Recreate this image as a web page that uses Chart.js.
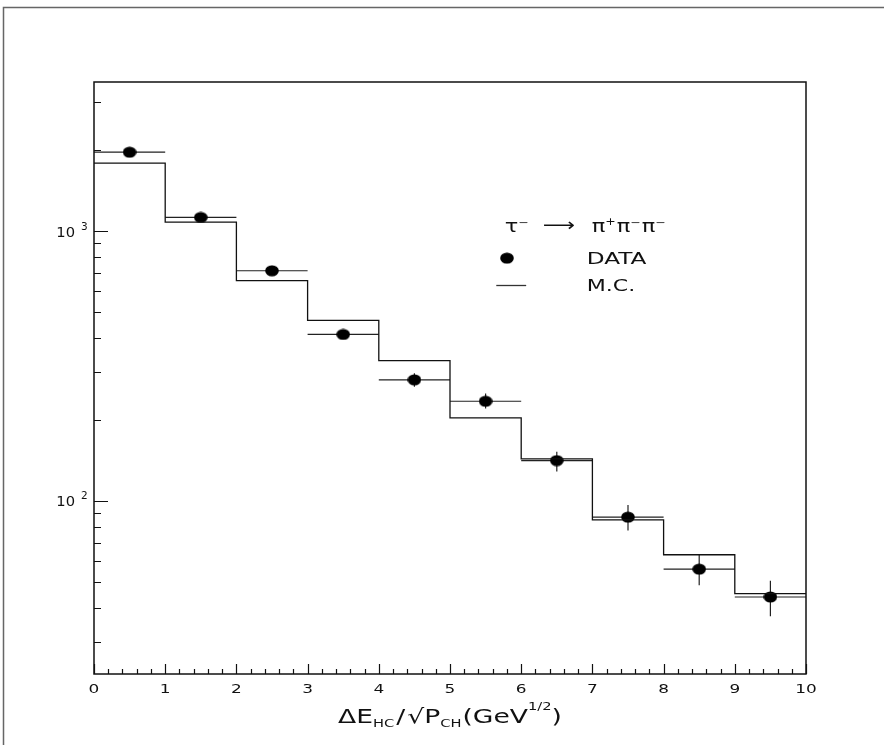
<!DOCTYPE html>
<html lang="en">
<head>
<meta charset="utf-8" />
<title>tau -> 3 pi : HC energy</title>
<script src="https://cdn.jsdelivr.net/npm/chart.js@4.4.1/dist/chart.umd.min.js"></script>
<style>
  html, body { margin: 0; padding: 0; background: #fff; }
  #wrap { width: 884px; height: 745px; }
</style>
</head>
<body>
<div id="wrap"><canvas id="c" width="884" height="745"></canvas></div>
<script>
// histogram bins (x in GeV^1/2)
const binCenters = [0.5, 1.5, 2.5, 3.5, 4.5, 5.5, 6.5, 7.5, 8.5, 9.5];
const binHalfWidth = 0.5;

// measured data points and their error range
const dataValues = [1962, 1124, 713, 414, 281, 234, 141, 87, 55.8, 44.0];
const dataLow    = [1920, 1090, 690, 402, 265, 220, 128.5, 77.6, 48.6, 37.3];
const dataHigh   = [2005, 1158, 737, 427, 297, 250, 152, 96.6, 63.5, 50.6];

// Monte Carlo histogram contents
const mcValues = [1786, 1080, 655, 467, 331, 203, 143, 85, 63.1, 45.3];

// axis ticks
const xTickLabels = ['0', '1', '2', '3', '4', '5', '6', '7', '8', '9', '10'];
const yDecades = [100, 1000];
const yDecadeExp = ['2', '3'];
const yMinorTicks = [30, 40, 50, 60, 70, 80, 90, 200, 300, 400, 500, 600, 700, 800, 900, 2000, 3000];

const FONT = '"DejaVu Sans", sans-serif';
const INK = '#111';

// step histogram points: one per bin edge, last one repeats last bin
const mcSteps = mcValues.map((v, i) => ({ x: binCenters[i] - binHalfWidth, y: v }));
mcSteps.push({ x: binCenters[binCenters.length - 1] + binHalfWidth, y: mcValues[mcValues.length - 1] });

const dataPoints = binCenters.map((x, i) => ({ x: x, y: dataValues[i] }));

// filled ellipse used as marker
const dot = document.createElement('canvas');
dot.width = 14; dot.height = 12;
(function () {
    const g = dot.getContext('2d');
    g.fillStyle = '#000';
    g.beginPath();
    g.ellipse(7, 6, 6.8, 5.6, 0, 0, Math.PI * 2);
    g.fill();
})();

// draw a run of text pieces [text, size, dy, gap] stretched horizontally by sx
function textRun(ctx, parts, x, y, sx, measureOnly) {
    let cx = x;
    parts.forEach(p => {
        ctx.save();
        ctx.font = p[1] + 'px ' + FONT;
        const w = ctx.measureText(p[0]).width * sx;
        if (!measureOnly) {
            ctx.translate(cx, y + (p[2] || 0));
            ctx.scale(sx, 1);
            ctx.fillStyle = INK;
            ctx.textBaseline = 'alphabetic';
            ctx.fillText(p[0], 0, 0);
        }
        ctx.restore();
        cx += w + (p[3] || 0);
    });
    return cx - x;
}

const errorBars = {
    id: 'errorBars',
    beforeDatasetsDraw(chart) {
        const ctx = chart.ctx, xs = chart.scales.x, ys = chart.scales.y;
        ctx.save();
        ctx.strokeStyle = '#222';
        ctx.lineWidth = 1.2;
        binCenters.forEach((x, i) => {
            const px = xs.getPixelForValue(x);
            const py = ys.getPixelForValue(dataValues[i]);
            ctx.beginPath();
            ctx.moveTo(xs.getPixelForValue(x - binHalfWidth), py);
            ctx.lineTo(xs.getPixelForValue(x + binHalfWidth), py);
            ctx.moveTo(px, ys.getPixelForValue(dataLow[i]));
            ctx.lineTo(px, ys.getPixelForValue(dataHigh[i]));
            ctx.stroke();
        });
        ctx.restore();
    }
};

const frameAndText = {
    id: 'frameAndText',
    afterDraw(chart) {
        const ctx = chart.ctx, a = chart.chartArea;
        const xs = chart.scales.x, ys = chart.scales.y;
        ctx.save();

        // outer page frame
        ctx.strokeStyle = '#666';
        ctx.lineWidth = 1.5;
        ctx.beginPath();
        ctx.moveTo(3.5, chart.height);
        ctx.lineTo(3.5, 7.5);
        ctx.lineTo(chart.width, 7.5);
        ctx.stroke();

        // plot box
        ctx.strokeStyle = INK;
        ctx.lineWidth = 1.5;
        ctx.strokeRect(a.left, a.top, a.right - a.left, a.bottom - a.top);

        // x ticks (inside, pointing up)
        ctx.lineWidth = 1.2;
        ctx.beginPath();
        for (let i = 0; i <= 50; i++) {
            const px = Math.round(xs.getPixelForValue(i / 5)) + 0.5;
            const len = i % 5 === 0 ? 10 : 5;
            ctx.moveTo(px, a.bottom);
            ctx.lineTo(px, a.bottom - len);
        }
        // y ticks (inside, pointing right)
        yDecades.forEach(v => {
            const py = Math.round(ys.getPixelForValue(v)) + 0.5;
            ctx.moveTo(a.left, py);
            ctx.lineTo(a.left + 14, py);
        });
        yMinorTicks.forEach(v => {
            const py = Math.round(ys.getPixelForValue(v)) + 0.5;
            ctx.moveTo(a.left, py);
            ctx.lineTo(a.left + 7, py);
        });
        ctx.stroke();

        // x tick labels
        xTickLabels.forEach((t, i) => {
            const w = textRun(ctx, [[t, 13]], 0, 0, 1.3, true);
            textRun(ctx, [[t, 13]], xs.getPixelForValue(i) - w / 2, a.bottom + 19, 1.3);
        });

        // y decade labels 10^n
        yDecades.forEach((v, i) => {
            const py = ys.getPixelForValue(v);
            const w = textRun(ctx, [['10', 14]], 0, 0, 1.05, true);
            textRun(ctx, [['10', 14]], a.left - 19 - w, py + 5.5, 1.05);
            textRun(ctx, [[yDecadeExp[i], 10]], a.left - 13, py - 1.5, 1.05);
        });

        // x axis title
        const title = [['ΔE', 20, 0], ['HC', 11, 4, 2], ['/', 20, 0, 2], ['√', 20, 0], ['P', 20, 0],
                       ['CH', 11, 4, 1], ['(GeV', 20, 0], ['1/2', 11, -13], [')', 20, 0]];
        const tw = textRun(ctx, title, 0, 0, 1.33, true);
        textRun(ctx, title, (a.left + a.right) / 2 - tw / 2, 723, 1.33);

        // legend
        const lx = xs.getPixelForValue(5.77);
        const tx = xs.getPixelForValue(6.92);
        const r1 = ys.getPixelForValue(1035);
        const r2 = ys.getPixelForValue(794);
        const r3 = ys.getPixelForValue(631);
        textRun(ctx, [['τ', 18, 0], ['−', 10, -6]], lx, r1 + 5, 1.25);
        textRun(ctx, [['⟶', 18, 0]], lx + 38, r1 + 4, 1.25);
        textRun(ctx, [['π', 18, 0], ['+', 10, -7, 1], ['π', 18, 0], ['−', 10, -6, 1], ['π', 18, 0], ['−', 10, -6]],
                tx + 5, r1 + 5, 1.25);
        ctx.drawImage(dot, xs.getPixelForValue(5.8) - 7, r2 - 6);
        textRun(ctx, [['DATA', 16]], tx, r2 + 6, 1.45);
        ctx.strokeStyle = '#333';
        ctx.lineWidth = 1.3;
        ctx.beginPath();
        ctx.moveTo(xs.getPixelForValue(5.65), Math.round(r3) + 0.5);
        ctx.lineTo(xs.getPixelForValue(6.07), Math.round(r3) + 0.5);
        ctx.stroke();
        textRun(ctx, [['M.C.', 16]], tx, r3 + 6, 1.38);

        ctx.restore();
    }
};

new Chart(document.getElementById('c'), {
    type: 'scatter',
    data: {
        datasets: [
            {
                label: 'M.C.',
                type: 'line',
                data: mcSteps,
                stepped: 'before',
                borderColor: INK,
                borderWidth: 1.3,
                pointRadius: 0,
                fill: false
            },
            {
                label: 'DATA',
                data: dataPoints,
                pointStyle: dot,
                pointRadius: 6,
                pointHoverRadius: 6
            }
        ]
    },
    options: {
        responsive: false,
        animation: false,
        devicePixelRatio: 1,
        events: [],
        layout: { padding: { left: 94, right: 78, top: 82, bottom: 71 } },
        plugins: { legend: { display: false }, tooltip: { enabled: false } },
        scales: {
            x: { type: 'linear', min: 0, max: 10, bounds: 'data', display: false },
            y: { type: 'logarithmic', min: 22.8, max: 3573, bounds: 'data', display: false }
        }
    },
    plugins: [errorBars, frameAndText]
});
</script>
</body>
</html>
